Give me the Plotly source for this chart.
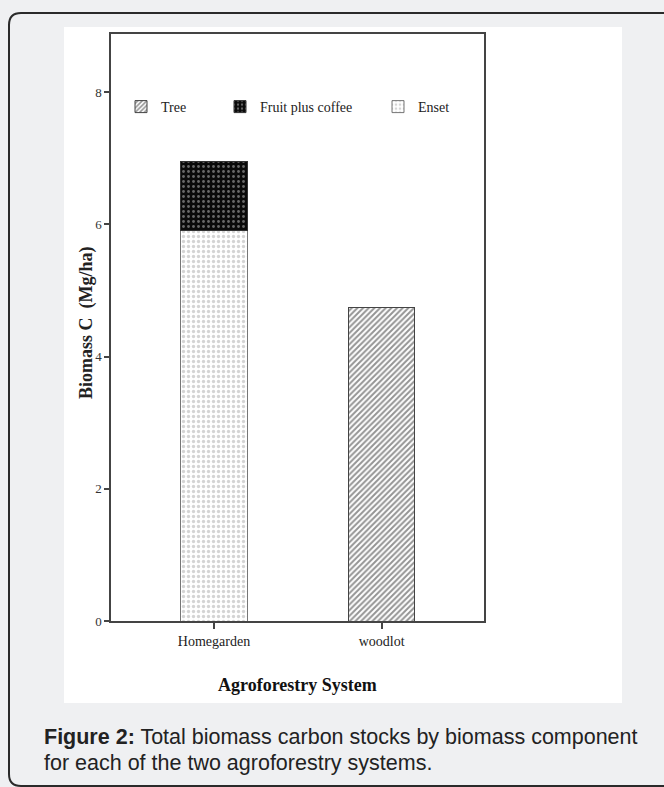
import plotly.graph_objects as go

# ---- data ----
systems = ["Homegarden", "woodlot"]
enset = [5.9, None]
fruit_coffee = [1.05, None]
tree = [None, 4.74]
y_ticks = [0, 2, 4, 6, 8]

W, H = 664, 787
L, R, T, B = 111, 484, 34, 621   # plot-area pixel box
PW, PH = R - L, B - T

def px(x):
    return (x - L) / PW

def py(y):
    return (B - y) / PH

serif = "Liberation Serif, Times New Roman, serif"
sans = "Liberation Sans, Arial, sans-serif"
PAGE_BG = "#eff0f2"

fig = go.Figure()

fig.add_trace(go.Bar(
    x=systems, y=enset, name="Enset", legend="legend3",
    width=0.394,
    marker=dict(color="white", line=dict(color="#777", width=1),
                pattern=dict(shape=".", fgcolor="#aaa", bgcolor="white", size=5, solidity=0.35)),
))
fig.add_trace(go.Bar(
    x=systems, y=fruit_coffee, name="Fruit plus coffee", legend="legend2",
    width=0.394,
    marker=dict(color="#111", line=dict(color="#333", width=1),
                pattern=dict(shape=".", fgcolor="#c8c8c8", bgcolor="#0a0a0a", size=5, solidity=0.25)),
))
fig.add_trace(go.Bar(
    x=systems, y=tree, name="Tree", legend="legend",
    width=0.394,
    marker=dict(color="white", line=dict(color="#444", width=1),
                pattern=dict(shape="/", fgcolor="#2a2a2a", bgcolor="white", size=4, solidity=0.5)),
))

legend_common = dict(orientation="h", xanchor="left", yanchor="middle",
                     bgcolor="rgba(0,0,0,0)", borderwidth=0,
                     font=dict(family=serif, size=14, color="#222"))
ly = py(107)
fig.update_layout(
    legend=dict(x=px(121), y=ly, **legend_common),
    legend2=dict(x=px(220), y=ly, **legend_common),
    legend3=dict(x=px(378), y=ly, **legend_common),
)

shapes = []
# white panel behind chart
shapes.append(dict(type="rect", xref="paper", yref="paper",
                   x0=px(64), x1=px(622), y0=py(703), y1=py(27),
                   fillcolor="white", line=dict(width=0), layer="below"))
# rounded border frame
bx0, by0, bx1, by1, r = 9, 13, 690, 786, 12
path = (f"M {px(bx1)},{py(by0)} L {px(bx0 + r)},{py(by0)} "
        f"Q {px(bx0)},{py(by0)} {px(bx0)},{py(by0 + r)} "
        f"L {px(bx0)},{py(by1 - r)} Q {px(bx0)},{py(by1)} {px(bx0 + r)},{py(by1)} "
        f"L {px(bx1)},{py(by1)}")
shapes.append(dict(type="path", xref="paper", yref="paper", path=path,
                   line=dict(color="#2a2a2a", width=2), layer="below"))

annotations = [
    dict(text="<b>Biomass C  (Mg/ha)</b>", xref="paper", yref="paper",
         x=px(86), y=py(323), textangle=-90, showarrow=False,
         xanchor="center", yanchor="middle",
         font=dict(family=serif, size=18, color="#222")),
    dict(text="<b>Agroforestry System</b>", xref="paper", yref="paper",
         x=px(297.5), y=py(685), showarrow=False,
         xanchor="center", yanchor="middle",
         font=dict(family=serif, size=18, color="#111")),
    dict(text="<b>Figure 2:</b> Total biomass carbon stocks by biomass component",
         xref="paper", yref="paper", x=px(42), y=py(737.5), showarrow=False,
         xanchor="left", yanchor="middle", align="left",
         font=dict(family=sans, size=21.5, color="#222")),
    dict(text="for each of the two agroforestry systems.",
         xref="paper", yref="paper", x=px(42), y=py(762.5), showarrow=False,
         xanchor="left", yanchor="middle", align="left",
         font=dict(family=sans, size=21.5, color="#222")),
]

fig.update_layout(
    width=W, height=H,
    margin=dict(l=L, r=W - R, t=T, b=H - B, autoexpand=False),
    paper_bgcolor=PAGE_BG, plot_bgcolor="white",
    barmode="stack", showlegend=True,
    shapes=shapes, annotations=annotations,
    xaxis=dict(type="category", range=[-0.614, 1.61],
               showline=True, linecolor="#444", linewidth=1.5, mirror=True,
               ticks="outside", ticklen=6, tickcolor="#444", tickwidth=1.5,
               tickfont=dict(family=serif, size=14, color="#222"),
               showgrid=False, zeroline=False),
    yaxis=dict(range=[0, 8.88], tickvals=y_ticks,
               showline=True, linecolor="#444", linewidth=1.5, mirror=True,
               ticks="outside", ticklen=5, tickcolor="#444", tickwidth=1.5,
               tickfont=dict(family=serif, size=13, color="#333"),
               showgrid=False, zeroline=False),
)

fig.write_html(
    "out.html",
    config={"displayModeBar": False},
    post_script=f"document.body.style.margin='0';document.body.style.background='{PAGE_BG}';",
)
